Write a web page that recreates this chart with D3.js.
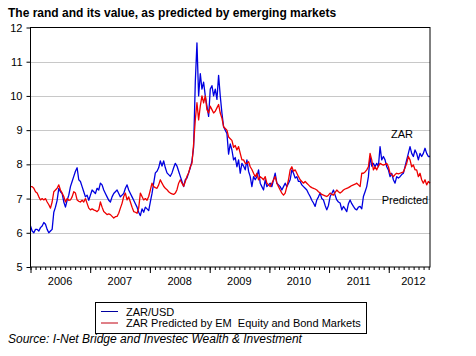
<!DOCTYPE html>
<html><head><meta charset="utf-8">
<script src="https://cdn.jsdelivr.net/npm/d3@7"></script>
<style>
html,body{margin:0;padding:0;background:#fff;}
svg{display:block;font-family:"Liberation Sans",Arial,sans-serif;}
</style></head>
<body>
<svg id="c" width="476" height="356"></svg>
<script>
// ---- data ----
const title = "The rand and its value, as predicted by emerging markets";
const source = "Source: I-Net Bridge and Investec Wealth & Investment";
const seriesNames = ["ZAR/USD", "ZAR Predicted by EM  Equity and Bond Markets"];
const startDate = "2006-01-01";
const stepDays = 10.18; // spacing between observations (approx. every 10 days)
const yTicks = [5, 6, 7, 8, 9, 10, 11, 12];
const yearLabels = [2006, 2007, 2008, 2009, 2010, 2011, 2012];

const zar = [
6.2,6.05,6.0,6.1,6.1,6.05,6.15,6.2,6.3,6.25,6.1,6.0,6.05,6.1,6.6,6.75,6.95,7.3,7.2,7.15,
6.9,6.75,6.95,7.1,7.35,7.5,7.65,7.8,7.9,7.55,7.5,7.35,7.2,7.05,7.1,6.95,7.1,7.25,7.2,7.15,
7.3,7.25,7.45,7.4,7.25,7.15,7.05,6.95,6.9,7.05,7.15,7.2,7.25,7.15,7.05,7.1,7.15,7.3,7.4,7.25,
7.15,7.05,6.95,6.85,6.75,6.6,6.5,6.7,6.6,6.75,6.7,6.65,6.9,7.15,7.45,7.75,7.8,7.9,8.1,7.95,
8.1,7.9,7.75,7.7,7.65,7.75,7.9,8.03,7.95,7.8,7.65,7.5,7.35,7.55,7.6,7.75,7.9,8.1,8.5,10.4,
11.55,10.0,10.65,10.2,10.4,10.0,9.7,9.4,10.2,10.3,10.0,10.2,9.9,10.6,10.0,9.5,9.1,9.0,8.9,8.3,
8.6,8.42,8.13,8.2,7.93,8.13,7.74,8.03,7.95,7.84,8.13,7.8,7.64,7.35,7.64,7.55,7.64,7.84,7.45,7.35,
7.25,7.55,7.35,7.4,7.45,7.35,7.55,7.74,7.45,7.4,7.35,7.25,7.35,7.45,7.35,7.45,7.55,7.84,7.74,7.6,
7.64,7.5,7.5,7.4,7.35,7.3,7.25,7.15,7.06,6.95,6.87,6.77,6.96,7.05,7.16,7.0,6.96,6.8,6.67,6.8,
7.06,7.15,7.25,7.1,6.96,6.9,6.87,6.67,6.77,6.7,6.62,6.85,6.96,6.85,6.77,6.7,6.67,6.75,6.77,6.7,
7.06,7.2,7.35,7.64,8.23,7.95,8.03,7.93,8.03,7.93,8.52,8.13,8.23,8.13,7.93,7.84,7.64,7.74,7.55,7.45,
7.64,7.6,7.64,7.7,7.74,7.93,8.13,8.32,8.52,8.32,8.23,8.42,8.32,8.13,8.32,8.23,8.32,8.47,8.32,8.23,
8.23
];

const predicted = [
7.35,7.35,7.3,7.2,7.16,7.05,6.96,7.0,6.96,7.0,6.9,6.82,6.72,6.9,7.2,7.25,7.3,7.4,7.25,7.16,
7.06,6.9,7.0,6.95,6.96,7.05,7.2,7.16,6.96,6.92,6.9,6.95,6.9,7.0,6.86,6.72,6.67,6.7,6.67,6.65,
6.62,6.67,6.9,6.75,6.62,6.58,6.53,6.55,6.53,6.48,6.43,6.47,6.48,6.57,6.72,6.86,7.06,7.16,6.96,7.05,
6.9,6.75,6.62,6.6,6.57,6.72,7.16,7.06,6.96,7.0,6.95,7.06,7.25,7.45,7.35,7.32,7.3,7.4,7.55,7.45,
7.36,7.3,7.26,7.2,7.16,7.14,7.12,7.16,7.26,7.45,7.55,7.45,7.36,7.5,7.65,7.75,7.93,8.03,8.6,9.3,
9.8,9.3,9.7,10.0,9.8,10.0,9.6,9.5,9.7,9.6,9.5,9.55,9.65,9.75,9.5,9.35,9.1,9.05,9.0,8.8,
8.75,8.7,8.5,8.55,8.42,8.52,8.32,8.13,8.13,8.03,8.03,8.08,7.93,7.85,7.74,7.64,7.74,7.55,7.64,7.6,
7.55,7.64,7.45,7.4,7.35,7.45,7.55,7.64,7.45,7.35,7.25,7.16,7.1,7.16,7.35,7.55,7.84,7.93,7.8,7.84,
7.74,7.64,7.55,7.5,7.45,7.5,7.45,7.4,7.35,7.32,7.3,7.28,7.25,7.2,7.16,7.12,7.1,7.08,7.06,7.1,
7.16,7.12,7.1,7.18,7.25,7.2,7.16,7.2,7.25,7.28,7.3,7.32,7.35,7.38,7.4,7.42,7.45,7.4,7.35,7.74,
7.74,7.78,7.84,7.93,8.32,8.13,7.84,7.93,7.84,7.95,8.03,8.0,7.98,8.0,8.03,7.93,7.74,7.7,7.64,7.7,
7.74,7.72,7.74,7.76,7.78,7.9,8.03,8.23,8.13,7.93,7.98,7.84,7.84,7.64,7.74,7.55,7.45,7.55,7.4,7.5,
7.45
];

// ---- chart ----
const svg = d3.select("#c");
const L = 30.5, R = 430, T = 27.5, B = 267;
const parse = d3.timeParse("%Y-%m-%d");
const t0 = parse(startDate);
const dateAt = i => d3.timeHour.offset(t0, Math.round(i * stepDays * 24));
const endDate = dateAt(zar.length - 1);

const x = d3.scaleTime().domain([t0, endDate]).range([L, R]);
const y = d3.scaleLinear().domain([5, 12]).range([B, T]);

// gridlines
svg.append("g").selectAll("line").data(yTicks.filter(v => v > 5 && v < 12)).join("line")
  .attr("x1", L).attr("x2", R)
  .attr("y1", d => Math.round(y(d)) + 0.5).attr("y2", d => Math.round(y(d)) + 0.5)
  .attr("stroke", "#c8c8c8").attr("stroke-width", 1);

// lines
const mk = arr => d3.line().x((d, i) => x(dateAt(i))).y(d => y(d));
svg.append("path").datum(zar).attr("d", mk(zar)).attr("fill", "none")
  .attr("stroke", "#0000e0").attr("stroke-width", 1.3).attr("stroke-linejoin", "round");
svg.append("path").datum(predicted).attr("d", mk(predicted)).attr("fill", "none")
  .attr("stroke", "#ee0000").attr("stroke-width", 1.3).attr("stroke-linejoin", "round");

// frame
svg.append("rect").attr("x", L).attr("y", T).attr("width", R - L).attr("height", B - T)
  .attr("fill", "none").attr("stroke", "#000").attr("stroke-width", 1);

// y axis
const yAxis = svg.append("g").attr("transform", `translate(${L},0)`)
  .call(d3.axisLeft(y).tickValues(yTicks).tickSize(4).tickPadding(4).tickFormat(d3.format("d")));
yAxis.select(".domain").remove();
yAxis.selectAll("text").attr("font-size", 11).attr("fill", "#000")
  .attr("font-family", "'Liberation Sans',Arial,sans-serif");
yAxis.selectAll("line").attr("stroke", "#000");

// x axis: monthly minor ticks, yearly major ticks
const xMinor = svg.append("g").attr("transform", `translate(0,${B})`)
  .call(d3.axisBottom(x).ticks(d3.timeMonth.every(1)).tickSize(3).tickFormat(""));
xMinor.select(".domain").remove();
xMinor.selectAll("line").attr("stroke", "#000");
const xMajor = svg.append("g").attr("transform", `translate(0,${B})`)
  .call(d3.axisBottom(x).ticks(d3.timeYear.every(1)).tickSize(6).tickFormat(""));
xMajor.select(".domain").remove();
xMajor.selectAll("line").attr("stroke", "#000");

// year labels centred in each year
svg.append("g").selectAll("text").data(yearLabels).join("text")
  .attr("x", d => {
    const mid = x(new Date(d, 6, 1));
    return Math.min(mid, R - 16.5);
  })
  .attr("y", 285).attr("text-anchor", "middle").attr("font-size", 11).attr("fill", "#000")
  .text(d => d);

// annotations
svg.append("text").attr("x", x(dateAt(228)) - 19).attr("y", 138).attr("font-size", 11)
  .attr("fill", "#000").text("ZAR");
svg.append("text").attr("x", x(dateAt(211))).attr("y", 204).attr("font-size", 11)
  .attr("fill", "#000").text("Predicted");

// title
svg.append("text").attr("x", 8).attr("y", 17).attr("font-size", 12).attr("font-weight", "bold")
  .attr("fill", "#000").text(title);

// legend
const lg = svg.append("g");
lg.append("rect").attr("x", 95.5).attr("y", 302.5).attr("width", 271).attr("height", 31)
  .attr("fill", "#fff").attr("stroke", "#000");
const lcolors = ["#0000a0", "#c00010"];
seriesNames.forEach((n, i) => {
  const yy = 311.5 + i * 11.5;
  lg.append("line").attr("x1", 101).attr("x2", 118).attr("y1", yy).attr("y2", yy)
    .attr("stroke", lcolors[i]).attr("stroke-width", 1);
  lg.append("text").attr("x", 126).attr("y", yy + 4).attr("font-size", 11).attr("fill", "#000")
    .attr("xml:space", "preserve").style("white-space", "pre").text(n);
});

// source
svg.append("text").attr("x", 8).attr("y", 343).attr("font-size", 12).attr("font-style", "italic")
  .attr("fill", "#000").text(source);
</script>
</body></html>
